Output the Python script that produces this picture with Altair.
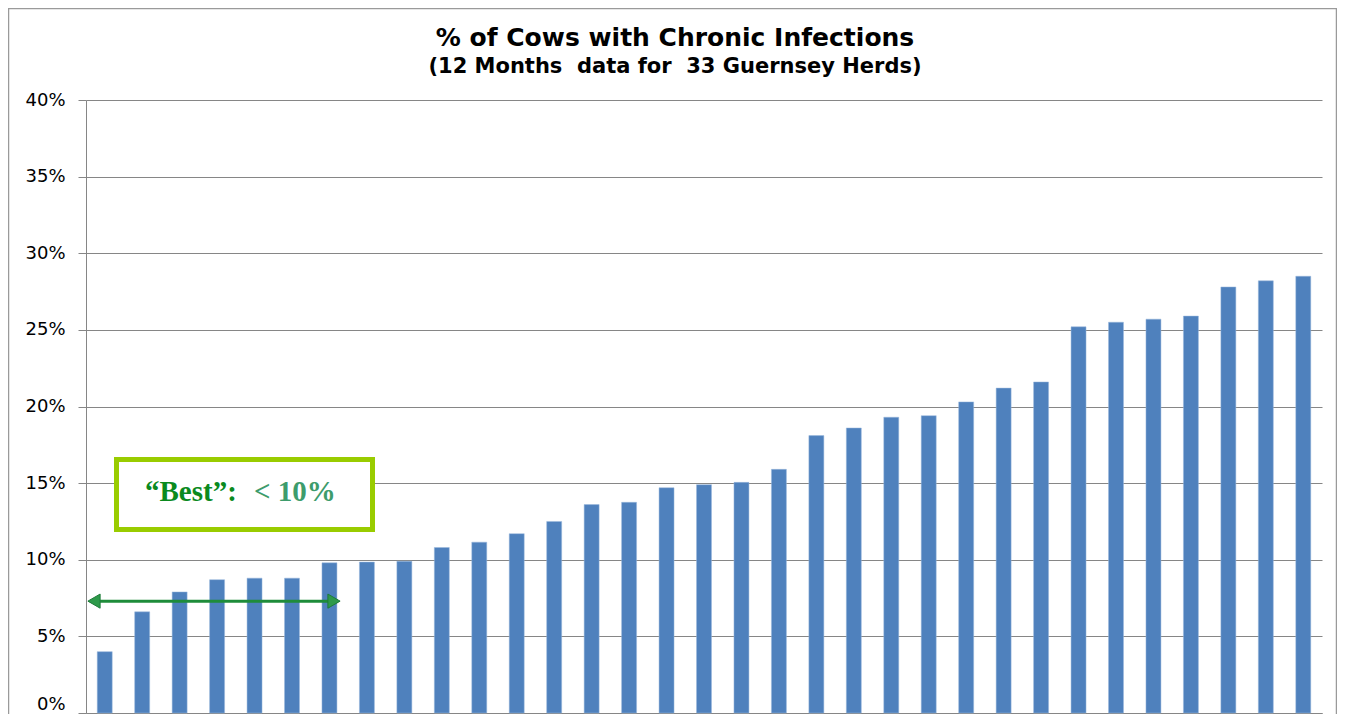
import altair as alt
import pandas as pd

herds = [f"H{i+1}" for i in range(33)]
pct = [4.0, 6.6, 7.9, 8.7, 8.8, 8.8, 9.8, 9.85, 9.9, 10.8, 11.15, 11.7, 12.5, 13.6, 13.75,
       14.7, 14.9, 15.05, 15.9, 18.1, 18.6, 19.3, 19.4, 20.3, 21.2, 21.6, 25.2, 25.5, 25.7,
       25.9, 27.8, 28.2, 28.5]
y_ticks = [0, 5, 10, 15, 20, 25, 30, 35, 40]
title_text = "% of Cows with Chronic Infections"
subtitle_text = "(12 Months\u00a0 data for\u00a0 33 Guernsey Herds)"
best_label = "\u201cBest\u201d:"
best_value = "< 10%"
arrow_level = 7.3

df = pd.DataFrame({"herd": herds, "pct": pct})

W, H = 1236, 613

x_enc = alt.X("herd:N", sort=herds, axis=alt.Axis(labels=False, ticks=False, title=None,
              domainColor="#868686", grid=False),
              scale=alt.Scale(paddingInner=0.6, paddingOuter=0.3))
y_scale = alt.Scale(domain=[0, 40], nice=False)
y_enc = alt.Y("pct:Q", scale=y_scale,
              axis=alt.Axis(values=y_ticks, labelExpr="datum.value + '%'", title=None,
                            tickSize=8, tickColor="#868686", domainColor="#868686",
                            gridColor="#868686", labelFont="DejaVu Sans", labelFontSize=18,
                            labelColor="#000000", labelPadding=13,
                            labelBaseline={"condition": {"test": "datum.value == 0", "value": "bottom"},
                                           "value": "middle"}))

base = alt.Chart(df)
one = "datum.herd == 'H1'"

frame = base.mark_rect(fill=None, stroke="#9a9a9a", strokeWidth=1.5).encode(
    x=alt.value(-77.5), x2=alt.value(1250.5), y=alt.value(-91.5), y2=alt.value(720)
).transform_filter(one)

bars = base.mark_bar(color="#4f81bd", stroke="#9bb8dc", strokeWidth=0.5).encode(x=x_enc, y=y_enc)

box = base.mark_rect(fill="white", stroke="#99cc00", strokeWidth=5).encode(
    x=alt.value(30.5), x2=alt.value(286.5), y=alt.value(359.5), y2=alt.value(429.5)
).transform_filter(one)

t1 = base.mark_text(font="Liberation Serif", fontWeight="bold", fontSize=29, color="#0a8a1e",
                    align="left", baseline="alphabetic", text=best_label).encode(
    x=alt.value(59), y=alt.value(401)).transform_filter(one)
t2 = base.mark_text(font="Liberation Serif", fontWeight="bold", fontSize=29, color="#3d9c6c",
                    align="left", baseline="alphabetic", text=best_value).encode(
    x=alt.value(168), y=alt.value(401)).transform_filter(one)

arrow_line = base.mark_rule(color="#1e8c3a", strokeWidth=3).encode(
    x=alt.value(4), x2=alt.value(252), y=alt.datum(arrow_level, scale=y_scale)
).transform_filter(one)
head_l = base.mark_point(shape="triangle-left", filled=True, color="#2e9a4a", size=200, opacity=1,
                         stroke="#1e7c3a", strokeWidth=1).encode(
    x=alt.value(8), y=alt.datum(arrow_level)).transform_filter(one)
head_r = base.mark_point(shape="triangle-right", filled=True, color="#2e9a4a", size=200, opacity=1,
                         stroke="#1e7c3a", strokeWidth=1).encode(
    x=alt.value(248), y=alt.datum(arrow_level)).transform_filter(one)

title = base.mark_text(font="DejaVu Sans", fontWeight="bold", fontSize=25, color="#000000",
                       align="center", baseline="alphabetic", text=title_text).encode(
    x=alt.value(589), y=alt.value(-54)).transform_filter(one)
subtitle = base.mark_text(font="DejaVu Sans", fontWeight="bold", fontSize=21, color="#000000",
                          align="center", baseline="alphabetic", text=subtitle_text).encode(
    x=alt.value(589), y=alt.value(-27)).transform_filter(one)

chart = alt.layer(frame, bars, box, t1, t2, arrow_line, head_l, head_r, title, subtitle).properties(
    width=W, height=H,
    autosize=alt.AutoSizeParams(type="none"),
    padding={"left": 78, "top": 92, "right": 15, "bottom": 1},
).configure_view(stroke=None).configure_axis(grid=True)

chart.save("out.html", embed_options={"renderer": "svg", "actions": False})
